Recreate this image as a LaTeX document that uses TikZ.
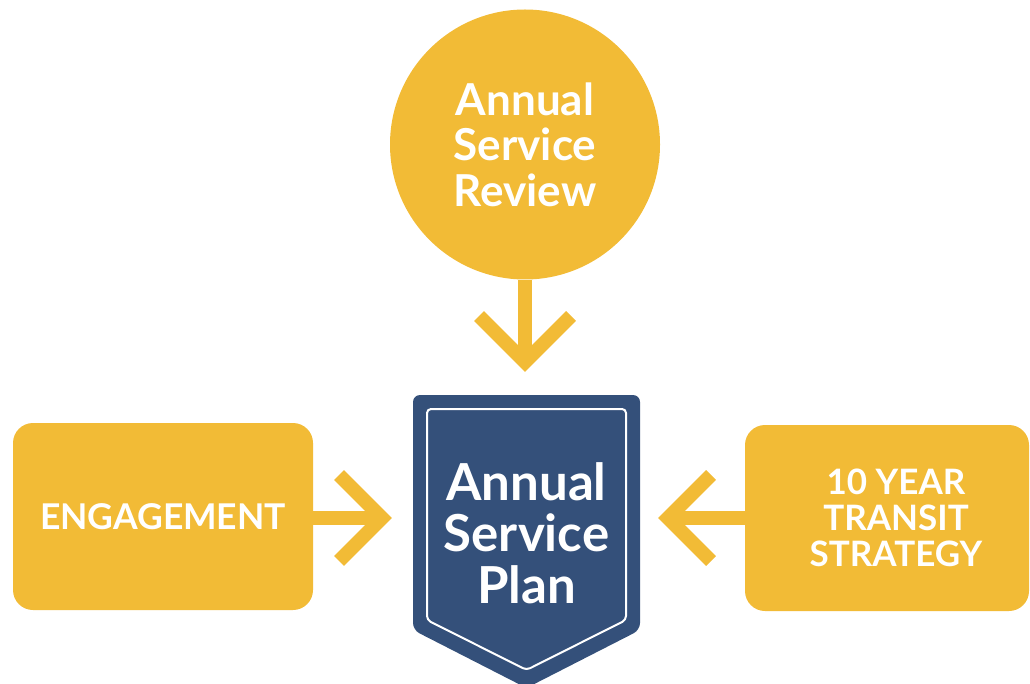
\documentclass[tikz,border=0pt]{standalone}
\usepackage{fontspec}
\setmainfont{Lato}
\usetikzlibrary{calc}
\definecolor{sunflower}{HTML}{F2BB36}
\definecolor{navy}{HTML}{34507A}
\begin{document}
\begin{tikzpicture}[x=1pt,y=-1pt,
  feeder/.style={fill=sunflower, draw=none, rounded corners=20pt, text=white,
    font=\bfseries\fontsize{35.5}{37}\selectfont, align=center},
  flow/.style={draw=sunflower, line width=14pt, line cap=butt, line join=miter},
  chevron/.style={draw=sunflower, line width=14pt, line cap=butt, line join=miter, miter limit=4}]
\useasboundingbox (0,0) rectangle (1030,684);
\begin{scope}
\clip (0,0) rectangle (1030,684);

% source circle
\node[circle, fill=sunflower, minimum size=270pt, inner sep=0pt, text=white,
  font=\bfseries\fontsize{44}{45.5}\selectfont, align=center] (review) at (525,144.5)
  {Annual\\Service\\Review};

% shield
\fill[navy, rounded corners=7pt] (413,395) -- (640,395) -- (640,630) -- (526.5,688) -- (413,630) -- cycle;
\draw[white, line width=2pt, rounded corners=4pt] (427,409) -- (626,409) -- (626,620) -- (526.5,670) -- (427,620) -- cycle;
\node[text=white, font=\bfseries\fontsize{51}{51.5}\selectfont, align=center] (plan) at (526.5,533)
  {Annual\\Service\\Plan};

% side boxes
\node[feeder, minimum width=300pt, minimum height=187pt] (engage) at (163,516.5) {ENGAGEMENT};
\node[feeder, minimum width=284pt, minimum height=186pt] (strategy) at (887,518) {};
\node[text=white, font=\bfseries\fontsize{35}{36}\selectfont, align=center] (strategytext) at (896,518)
  {10 YEAR\\TRANSIT\\STRATEGY};

% arrow tips
\coordinate (tipA) at (525,362);
\coordinate (tipB) at (382,518);
\coordinate (tipC) at (668,518);

% arrows
\draw[flow] (review.south) -- (tipA);
\draw[chevron] ($(tipA)+(-46,-46)$) -- (tipA) -- ($(tipA)+(46,-46)$);
\draw[flow] (engage.east |- tipB) -- (tipB);
\draw[chevron] ($(tipB)+(-43,-43)$) -- (tipB) -- ($(tipB)+(-43,43)$);
\draw[flow] (strategy.west |- tipC) -- (tipC);
\draw[chevron] ($(tipC)+(43,-43)$) -- (tipC) -- ($(tipC)+(43,43)$);
\end{scope}
\end{tikzpicture}
\end{document}
